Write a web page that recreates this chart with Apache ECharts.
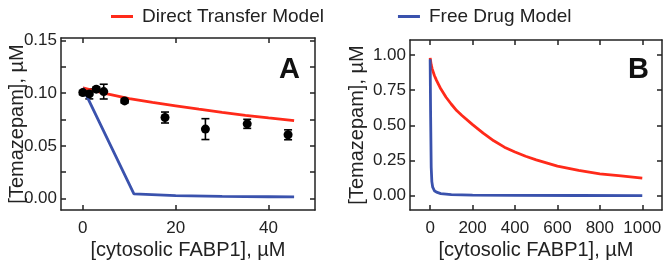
<!DOCTYPE html>
<html>
<head>
<meta charset="utf-8">
<script src="https://cdn.jsdelivr.net/npm/echarts@6/dist/echarts.min.js"></script>
<style>
  html, body { margin: 0; padding: 0; background: #fff; }
  #chart { width: 666px; height: 260px; }
</style>
</head>
<body>
<div id="chart"></div>
<script>
// measured points, panel A
var pointX = [0, 1.4, 2.9, 4.5, 9.0, 17.7, 26.4, 35.4, 44.2];
var pointY = [0.1006, 0.0993, 0.1038, 0.1015, 0.0927, 0.0769, 0.0659, 0.0709, 0.0605];
var pointErr = [0.002, 0.0047, 0.002, 0.007, 0.002, 0.0052, 0.0099, 0.0043, 0.0047];

// model curves, panel A
var directAX = [0, 5, 10, 15, 20, 25, 30, 35, 40, 45.5];
var directAY = [0.105, 0.0995, 0.0948, 0.0912, 0.088, 0.0848, 0.0818, 0.079, 0.0766, 0.074];
var freeAX = [0, 11, 20, 30, 40, 45.5];
var freeAY = [0.105, 0.0045, 0.0028, 0.002, 0.0017, 0.0015];

// model curves, panel B
var directBX = [0, 5, 10, 20, 30, 40, 50, 75, 100, 125, 150, 200, 250, 300, 350, 400, 450, 500, 600, 700, 800, 900, 1000];
var directBY = [0.98, 0.93, 0.9, 0.855, 0.82, 0.79, 0.76, 0.7, 0.65, 0.605, 0.57, 0.505, 0.445, 0.39, 0.345, 0.31, 0.28, 0.255, 0.21, 0.18, 0.155, 0.14, 0.125];
var freeBX = [0, 2, 5, 8, 12, 20, 30, 50, 100, 200, 400, 700, 1000];
var freeBY = [0.97, 0.6, 0.2, 0.1, 0.06, 0.035, 0.025, 0.015, 0.008, 0.004, 0.002, 0.001, 0.0007];

// ticks
var xTicksA = [0, 20, 40];
var yTicksA = [0, 0.025, 0.05, 0.075, 0.1, 0.125, 0.15];
var yLabelsA = [0, 0.05, 0.1, 0.15];
var xTicksB = [0, 200, 400, 600, 800, 1000];
var yTicksB = [0, 0.25, 0.5, 0.75, 1];

var RED = '#ff2a1a';
var BLUE = '#3a52ad';
var FONT = 'Liberation Sans, Arial, sans-serif';
var INK = '#222';

function zip(xs, ys) {
  return xs.map(function (x, i) { return [x, ys[i]]; });
}

function xAxis(grid, pos, min, max, ticks, withLabel) {
  return {
    type: 'value', gridIndex: grid, position: pos, min: min, max: max,
    splitLine: { show: false },
    axisLine: { show: true, onZero: false, lineStyle: { color: INK, width: 1.5 } },
    axisTick: { show: true, inside: true, length: 5, customValues: ticks, lineStyle: { color: INK, width: 1.5 } },
    axisLabel: withLabel ? {
      show: true, customValues: ticks, margin: 10, fontSize: 17, color: INK, fontFamily: FONT,
      formatter: function (v) { return String(v); }
    } : { show: false },
    name: withLabel ? '[cytosolic FABP1], µM' : '',
    nameLocation: 'middle', nameGap: 30, nameMoveOverlap: false,
    nameTextStyle: { fontSize: 20, color: INK, fontFamily: FONT }
  };
}

function yAxis(grid, pos, min, max, ticks, labels, digits, gap) {
  return {
    type: 'value', gridIndex: grid, position: pos, min: min, max: max,
    splitLine: { show: false },
    axisLine: { show: true, onZero: false, lineStyle: { color: INK, width: 1.5 } },
    axisTick: { show: true, inside: true, length: 5, customValues: ticks, lineStyle: { color: INK, width: 1.5 } },
    axisLabel: labels ? {
      show: true, customValues: labels, margin: 4, fontSize: 17, color: INK, fontFamily: FONT,
      formatter: function (v) { return v.toFixed(digits); }
    } : { show: false },
    name: labels ? '[Temazepam], µM' : '',
    nameLocation: 'middle', nameGap: gap, nameMoveOverlap: false,
    nameTextStyle: { fontSize: 20, color: INK, fontFamily: FONT }
  };
}

function lineSeries(name, xi, yi, data, color) {
  return {
    name: name, type: 'line', xAxisIndex: xi, yAxisIndex: yi,
    data: data, showSymbol: false, smooth: false,
    lineStyle: { color: color, width: 2.8 }, itemStyle: { color: color }
  };
}

var chart = echarts.init(document.getElementById('chart'), null, { renderer: 'canvas' });

var option = {
  animation: false,
  backgroundColor: '#fff',
  legend: {
    data: ['Direct Transfer Model', 'Free Drug Model'],
    left: 106, top: 2,
    icon: 'rect', itemWidth: 22, itemHeight: 3, itemGap: 74,
    textStyle: { fontSize: 19, color: INK, fontFamily: FONT, padding: [0, 0, 0, 4] }
  },
  grid: [
    { left: 61, right: 351, top: 38, bottom: 50, outerBoundsMode: 'none' },
    { left: 410, right: 4, top: 40, bottom: 50, outerBoundsMode: 'none' }
  ],
  xAxis: [
    xAxis(0, 'bottom', -4.7, 50, xTicksA, true),
    xAxis(0, 'top', -4.7, 50, xTicksA, false),
    xAxis(1, 'bottom', -95, 1093, xTicksB, true),
    xAxis(1, 'top', -95, 1093, xTicksB, false)
  ],
  yAxis: [
    yAxis(0, 'left', -0.0109, 0.1524, yTicksA, yLabelsA, 2, 34),
    yAxis(0, 'right', -0.0109, 0.1524, yTicksA, null, 2, 0),
    yAxis(1, 'left', -0.102, 1.107, yTicksB, yTicksB, 2, 43),
    yAxis(1, 'right', -0.102, 1.107, yTicksB, null, 2, 0)
  ],
  graphic: [
    { type: 'text', left: 279, top: 55, style: { text: 'A', fontSize: 29, fontWeight: 'bold', fill: '#111', fontFamily: FONT } },
    { type: 'text', left: 628, top: 55, style: { text: 'B', fontSize: 29, fontWeight: 'bold', fill: '#111', fontFamily: FONT } }
  ],
  series: [
    lineSeries('Direct Transfer Model', 0, 0, zip(directAX, directAY), RED),
    lineSeries('Free Drug Model', 0, 0, zip(freeAX, freeAY), BLUE),
    {
      name: 'errors', type: 'custom', xAxisIndex: 0, yAxisIndex: 0,
      data: pointX.map(function (x, i) { return [x, pointY[i] - pointErr[i], pointY[i] + pointErr[i]]; }),
      renderItem: function (params, api) {
        var lo = api.coord([api.value(0), api.value(1)]);
        var hi = api.coord([api.value(0), api.value(2)]);
        var w = 4;
        var st = { stroke: '#000', lineWidth: 1.6 };
        return {
          type: 'group',
          children: [
            { type: 'line', shape: { x1: lo[0], y1: lo[1], x2: hi[0], y2: hi[1] }, style: st },
            { type: 'line', shape: { x1: lo[0] - w, y1: lo[1], x2: lo[0] + w, y2: lo[1] }, style: st },
            { type: 'line', shape: { x1: hi[0] - w, y1: hi[1], x2: hi[0] + w, y2: hi[1] }, style: st }
          ]
        };
      },
      z: 3
    },
    {
      name: 'data', type: 'scatter', xAxisIndex: 0, yAxisIndex: 0,
      data: zip(pointX, pointY), symbolSize: 9,
      itemStyle: { color: '#000', opacity: 1 }, z: 4
    },
    lineSeries('Direct Transfer Model', 2, 2, zip(directBX, directBY), RED),
    lineSeries('Free Drug Model', 2, 2, zip(freeBX, freeBY), BLUE)
  ]
};

chart.setOption(option);
</script>
</body>
</html>
